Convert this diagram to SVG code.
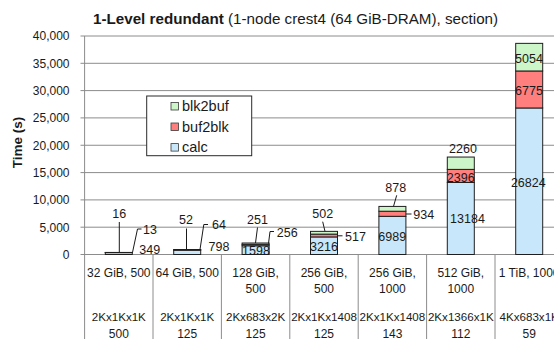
<svg xmlns="http://www.w3.org/2000/svg" width="554" height="339" viewBox="0 0 554 339">
  <style>
    text { font-family: "Liberation Sans", Arial, sans-serif; fill: #1a1a1a; }
    .grid { stroke: #8c8c8c; stroke-width: 1; fill: none; }
    .axis { stroke: #8c8c8c; stroke-width: 1; fill: none; }
    .ytick { font-size: 12px; text-anchor: end; }
    .cat { font-size: 12px; text-anchor: middle; }
    .dims { font-size: 11.6px; }
    .val { font-size: 12.5px; text-anchor: middle; }
    .seg { stroke: #1e1e1e; stroke-width: 1; }
    .calc { fill: #c9e7fb; }
    .buf2blk { fill: #ff7f7f; }
    .blk2buf { fill: #ccf5c8; }
    .leader { stroke: #1a1a1a; stroke-width: 1; fill: none; }
    .legtext { font-size: 14.5px; }
  </style>

  <rect width="554" height="339" fill="#ffffff"/>

  <!-- Title -->
  <text x="93" y="23.5" font-size="15.2px"><tspan font-weight="bold">1-Level redundant</tspan> (1-node crest4 (64 GiB-DRAM), section)</text>

  <!-- Y axis title -->
  <text transform="translate(22,142.5) rotate(-90)" font-size="13.5px" font-weight="bold" text-anchor="middle">Time (s)</text>

  <!-- Gridlines and value axis -->
  <g id="gridlines">
    <path class="grid" d="M80.5 36H554 M80.5 63.3H554 M80.5 90.6H554 M80.5 117.9H554 M80.5 145.25H554 M80.5 172.6H554 M80.5 199.9H554 M80.5 227.2H554 M80.5 254.5H554"/>
    <path class="axis" d="M84.6 36V339 M153 254.5V339 M221.4 254.5V339 M289.8 254.5V339 M358.2 254.5V339 M426.6 254.5V339 M495 254.5V339"/>
  </g>

  <g id="y-labels">
    <text class="ytick" x="69.5" y="40.3">40,000</text>
    <text class="ytick" x="69.5" y="67.6">35,000</text>
    <text class="ytick" x="69.5" y="94.9">30,000</text>
    <text class="ytick" x="69.5" y="122.2">25,000</text>
    <text class="ytick" x="69.5" y="149.5">20,000</text>
    <text class="ytick" x="69.5" y="176.9">15,000</text>
    <text class="ytick" x="69.5" y="204.2">10,000</text>
    <text class="ytick" x="69.5" y="231.5">5,000</text>
    <text class="ytick" x="69.5" y="258.8">0</text>
  </g>

  <!-- Stacked bars: calc, buf2blk, blk2buf from bottom up -->
  <g id="bar-32GiB">
    <rect class="seg calc" x="105.3" y="252.59" width="27" height="1.91"/>
    <rect class="seg buf2blk" x="105.3" y="252.52" width="27" height="0.07"/>
    <rect class="seg blk2buf" x="105.3" y="252.43" width="27" height="0.09"/>
    <text class="val" x="119.3" y="218.4">16</text>
    <text class="val" x="150" y="233.7">13</text>
    <text class="val" x="149.7" y="254.4">349</text>
  </g>
  <g id="bar-64GiB">
    <rect class="seg calc" x="173.7" y="250.14" width="27" height="4.36"/>
    <rect class="seg buf2blk" x="173.7" y="249.79" width="27" height="0.35"/>
    <rect class="seg blk2buf" x="173.7" y="249.51" width="27" height="0.28"/>
    <text class="val" x="186" y="224.4">52</text>
    <text class="val" x="219" y="229.4">64</text>
    <text class="val" x="219" y="251">798</text>
  </g>
  <g id="bar-128GiB">
    <rect class="seg calc" x="242.1" y="245.77" width="27" height="8.73"/>
    <rect class="seg buf2blk" x="242.1" y="244.37" width="27" height="1.4"/>
    <rect class="seg blk2buf" x="242.1" y="243" width="27" height="1.37"/>
    <text class="val" x="257.5" y="223.7">251</text>
    <text class="val" x="287.3" y="236.7">256</text>
    <text class="val" x="256" y="255">1598</text>
  </g>
  <g id="bar-256GiB-500">
    <rect class="seg calc" x="310.5" y="236.93" width="27" height="17.57"/>
    <rect class="seg buf2blk" x="310.5" y="234.11" width="27" height="2.82"/>
    <rect class="seg blk2buf" x="310.5" y="231.37" width="27" height="2.74"/>
    <text class="val" x="322.7" y="217.7">502</text>
    <text class="val" x="355.5" y="241">517</text>
    <text class="val" x="324" y="251">3216</text>
  </g>
  <g id="bar-256GiB-1000">
    <rect class="seg calc" x="378.9" y="216.32" width="27" height="38.18"/>
    <rect class="seg buf2blk" x="378.9" y="211.22" width="27" height="5.1"/>
    <rect class="seg blk2buf" x="378.9" y="206.42" width="27" height="4.8"/>
    <text class="val" x="395.8" y="191.7">878</text>
    <text class="val" x="423.7" y="219.4">934</text>
    <text class="val" x="392.2" y="241">6989</text>
  </g>
  <g id="bar-512GiB">
    <rect class="seg calc" x="447.3" y="182.48" width="27" height="72.02"/>
    <rect class="seg buf2blk" x="447.3" y="169.39" width="27" height="13.09"/>
    <rect class="seg blk2buf" x="447.3" y="157.05" width="27" height="12.34"/>
    <text class="val" x="463" y="152.7">2260</text>
    <text class="val" x="460.7" y="181.7">2396</text>
    <text class="val" x="467.5" y="222.7">13184</text>
  </g>
  <g id="bar-1TiB">
    <rect class="seg calc" x="515.7" y="107.97" width="27" height="146.53"/>
    <rect class="seg buf2blk" x="515.7" y="70.97" width="27" height="37"/>
    <rect class="seg blk2buf" x="515.7" y="43.36" width="27" height="27.61"/>
    <text class="val" x="529" y="62.7">5054</text>
    <text class="val" x="529" y="95">6775</text>
    <text class="val" x="528.3" y="186.7">26824</text>
  </g>

  <!-- Leader lines from data labels to their segments -->
  <g id="leaders">
    <path class="leader" d="M119.3 222V252.4"/>
    <path class="leader" d="M141.5 229H137.5L132.5 252.4"/>
    <path class="leader" d="M186.5 228.5V249.5"/>
    <path class="leader" d="M208 224.5H203.8L200 249.5"/>
    <path class="leader" d="M257.5 227.5L255.5 243"/>
    <path class="leader" d="M274 231.5H270L268.5 243.5"/>
    <path class="leader" d="M322.7 221.7L325 231.4"/>
    <path class="leader" d="M337.5 235.8H342.5"/>
    <path class="leader" d="M396.7 195.3L393.5 206.4"/>
    <path class="leader" d="M405.9 214H411.5"/>
  </g>

  <!-- Legend -->
  <g id="legend">
    <rect x="146.7" y="96" width="105" height="59.7" fill="#ffffff" stroke="#2a2a2a" stroke-width="1"/>
    <rect class="blk2buf" x="171" y="102.5" width="7.5" height="7.5" stroke="#3a3a3a" stroke-width="0.8"/>
    <text class="legtext" x="182" y="111">blk2buf</text>
    <rect class="buf2blk" x="171" y="123" width="7.5" height="7.5" stroke="#3a3a3a" stroke-width="0.8"/>
    <text class="legtext" x="182" y="131.7">buf2blk</text>
    <rect class="calc" x="171" y="143.6" width="7.5" height="7.5" stroke="#3a3a3a" stroke-width="0.8"/>
    <text class="legtext" x="182" y="152.3">calc</text>
  </g>

  <!-- Category labels -->
  <g id="categories">
    <text class="cat" x="118.8" y="277">32 GiB, 500</text>
    <text class="cat dims" x="118.8" y="321">2Kx1Kx1K</text>
    <text class="cat" x="118.8" y="337.5">500</text>

    <text class="cat" x="187.2" y="277">64 GiB, 500</text>
    <text class="cat dims" x="187.2" y="321">2Kx1Kx1K</text>
    <text class="cat" x="187.2" y="337.5">125</text>

    <text class="cat" x="255.6" y="277">128 GiB,</text>
    <text class="cat" x="255.6" y="293">500</text>
    <text class="cat dims" x="255.6" y="321">2Kx683x2K</text>
    <text class="cat" x="255.6" y="337.5">125</text>

    <text class="cat" x="324" y="277">256 GiB,</text>
    <text class="cat" x="324" y="293">500</text>
    <text class="cat dims" x="324" y="321">2Kx1Kx1408</text>
    <text class="cat" x="324" y="337.5">125</text>

    <text class="cat" x="392.4" y="277">256 GiB,</text>
    <text class="cat" x="392.4" y="293">1000</text>
    <text class="cat dims" x="392.4" y="321">2Kx1Kx1408</text>
    <text class="cat" x="392.4" y="337.5">143</text>

    <text class="cat" x="460.8" y="277">512 GiB,</text>
    <text class="cat" x="460.8" y="293">1000</text>
    <text class="cat dims" x="460.8" y="321">2Kx1366x1K</text>
    <text class="cat" x="460.8" y="337.5">112</text>

    <text class="cat" x="529.2" y="277">1 TiB, 1000</text>
    <text class="cat dims" x="529.2" y="321">4Kx683x1K</text>
    <text class="cat" x="529.2" y="337.5">59</text>
  </g>
</svg>
